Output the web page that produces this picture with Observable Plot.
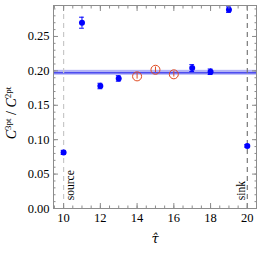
<!DOCTYPE html>
<html><head><meta charset="utf-8">
<script src="https://cdn.jsdelivr.net/npm/d3@7"></script>
<script src="https://cdn.jsdelivr.net/npm/@observablehq/plot@0.6"></script>
<style>body{margin:0;background:#fff}svg{font-family:"Liberation Serif",serif}</style>
</head><body><div id="chart"></div>
<script>
const tauBlue = [10, 11, 12, 13, 17, 18, 19, 20];
const ratioBlue = [0.0815, 0.270, 0.178, 0.189, 0.204, 0.1987, 0.289, 0.091];
const errBlue = [0.003, 0.008, 0.004, 0.004, 0.005, 0.004, 0.004, 0.002];
const tauRed = [14, 15, 16];
const ratioRed = [0.192, 0.2016, 0.195];
const errRed = [0.004, 0.004, 0.004];
const fitValue = 0.1972;
const fitErr = 0.0036;
const xTicks = [10, 12, 14, 16, 18, 20];
const yTicks = [0, 0.05, 0.10, 0.15, 0.20, 0.25];
const markerTau = [10, 20];
const markerLabels = ["source", "sink"];

const blue = tauBlue.map((t, i) => ({t, v: ratioBlue[i], e: errBlue[i]}));
const red = tauRed.map((t, i) => ({t, v: ratioRed[i], e: errRed[i]}));
const xMinor = d3.range(9.5, 20.51, 0.5);
const yMinor = d3.range(0, 0.2951, 0.01);
const xDom = [9.45, 20.5];
const capW = 0.13;

const plot = Plot.plot({
  width: 257, height: 257,
  marginLeft: 53, marginRight: 1, marginTop: 5, marginBottom: 49,
  style: {fontFamily: "Liberation Serif, serif", fontSize: "12px", background: "#fff"},
  x: {domain: xDom, label: null},
  y: {domain: [0, 0.295], label: null},
  marks: [
    Plot.rect([{x1: xDom[0], x2: xDom[1], y1: fitValue - fitErr, y2: fitValue + fitErr}], {x1: "x1", x2: "x2", y1: "y1", y2: "y2", fill: "#b3b3f5"}),
    Plot.ruleY([fitValue], {stroke: "#4d4df0", strokeWidth: 1.5}),
    Plot.ruleX(markerTau, {x: d => d, stroke: (d, i) => i === 0 ? "#c8c8c8" : "#7a7a7a", strokeDasharray: "5,4", strokeWidth: 1.2}),
    Plot.text(markerLabels, {x: (d, i) => markerTau[i] + (i === 0 ? 0.35 : -0.34), y: 0.012, text: d => d, rotate: -90, textAnchor: "start", fontSize: 11.5, fill: "#000"}),
    // blue points
    Plot.ruleX(blue, {x: "t", y1: d => d.v - d.e, y2: d => d.v + d.e, stroke: "#0000ff", strokeWidth: 1}),
    Plot.ruleY(blue, {y: d => d.v - d.e, x1: d => d.t - capW, x2: d => d.t + capW, stroke: "#0000ff", strokeWidth: 1}),
    Plot.ruleY(blue, {y: d => d.v + d.e, x1: d => d.t - capW, x2: d => d.t + capW, stroke: "#0000ff", strokeWidth: 1}),
    Plot.dot(blue, {x: "t", y: "v", r: 3, fill: "#0000ff"}),
    // red open points
    Plot.ruleX(red, {x: "t", y1: d => d.v - d.e, y2: d => d.v + d.e, stroke: "#e04a20", strokeWidth: 1}),
    Plot.dot(red, {x: "t", y: "v", r: 4.5, stroke: "#e04a20", strokeWidth: 1, fill: "none"}),
    // frame and ticks
    Plot.frame({stroke: "#8c8c8c"}),
    Plot.axisX(xTicks, {anchor: "bottom", tickSize: -5, tickFormat: () => "", stroke: "#8c8c8c", label: null}),
    Plot.axisX(xMinor, {anchor: "bottom", tickSize: -2.5, tickFormat: () => "", stroke: "#8c8c8c", label: null}),
    Plot.axisX(xTicks, {anchor: "top", tickSize: -5, tickFormat: () => "", stroke: "#8c8c8c", label: null}),
    Plot.axisX(xMinor, {anchor: "top", tickSize: -2.5, tickFormat: () => "", stroke: "#8c8c8c", label: null}),
    Plot.axisY(yTicks, {anchor: "left", tickSize: -5, tickFormat: () => "", stroke: "#8c8c8c", label: null}),
    Plot.axisY(yMinor, {anchor: "left", tickSize: -2.5, tickFormat: () => "", stroke: "#8c8c8c", label: null}),
    Plot.axisY(yTicks, {anchor: "right", tickSize: -5, tickFormat: () => "", stroke: "#8c8c8c", label: null}),
    Plot.axisY(yMinor, {anchor: "right", tickSize: -2.5, tickFormat: () => "", stroke: "#8c8c8c", label: null}),
    Plot.axisX(xTicks, {anchor: "bottom", tickSize: 0, tickPadding: 5, tickFormat: d => String(d), fontSize: 12.5, fill: "#000", label: null}),
    Plot.axisY(yTicks, {anchor: "left", tickSize: 0, tickPadding: 4, tickFormat: d3.format(".2f"), fontSize: 12.5, fill: "#000", label: null})
  ]
});
document.getElementById("chart").appendChild(plot);

const svg = d3.select(plot);
// y-axis label with superscripts
const yl = svg.append("text")
  .attr("transform", "translate(16,113) rotate(-90)")
  .attr("text-anchor", "middle")
  .attr("font-size", 14)
  .attr("fill", "#000");
yl.append("tspan").attr("font-style", "italic").text("C");
yl.append("tspan").attr("font-size", 9).attr("dy", -5.5).text("3pt");
yl.append("tspan").attr("dy", 5.5).text(" / ");
yl.append("tspan").attr("font-style", "italic").text("C");
yl.append("tspan").attr("font-size", 9).attr("dy", -5.5).text("2pt");
// x-axis label: tau with combining hat
svg.append("text")
  .attr("x", 155).attr("y", 243)
  .attr("text-anchor", "middle")
  .attr("font-family", "DejaVu Serif, serif")
  .attr("font-style", "italic")
  .attr("font-size", 13)
  .attr("fill", "#000")
  .text("τ\u0302");
</script></body></html>
